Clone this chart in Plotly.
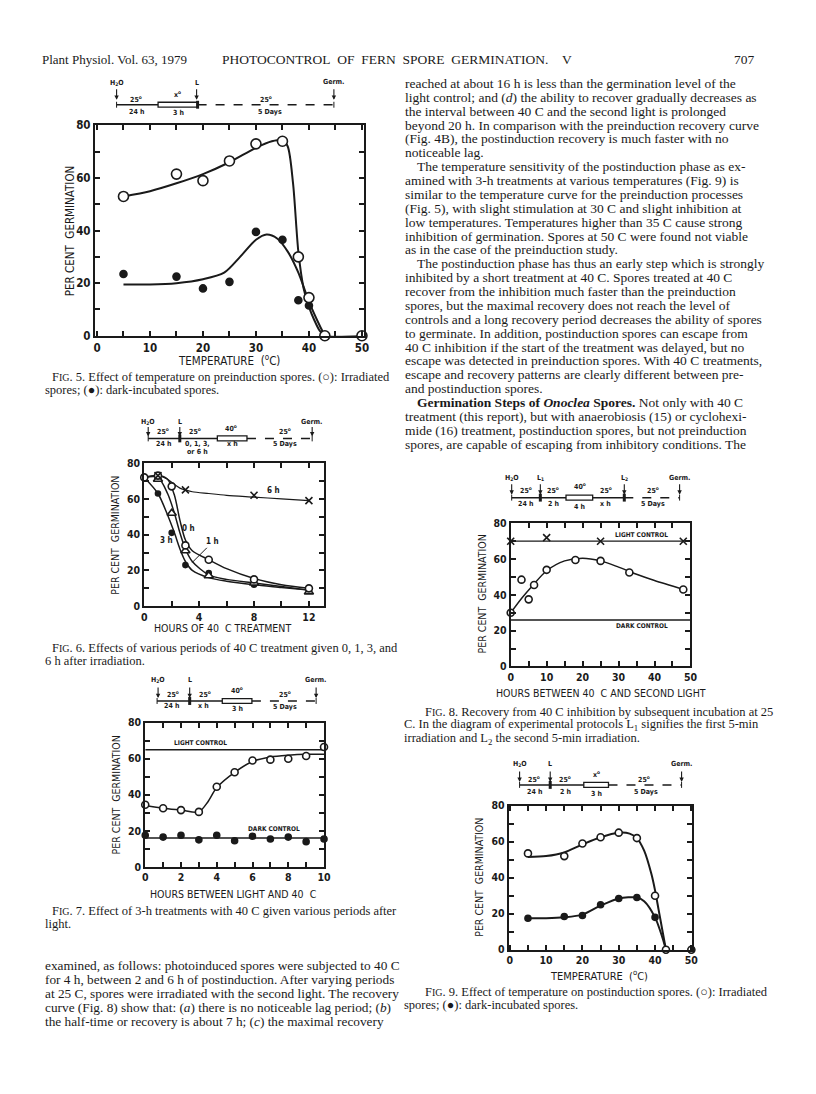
import plotly.graph_objects as go

W, H = 816, 1094

# ---- Fig. 5: preinduction spores, temperature ----
f5_temp = [5, 15, 20, 25, 30, 35, 38, 40, 43, 50]
f5_irradiated = [53, 61.5, 59, 66.5, 73, 74, 30, 14.5, 0, 0]
f5_dark = [23.5, 22.5, 18, 20.5, 39.5, 36.5, 13.5, 11.5, 0, 0]
f5_irr_curve_x = [5, 10, 15, 20, 25, 30, 33, 35, 36, 37, 38, 39, 40, 41, 42, 43, 50]
f5_irr_curve_y = [53, 55, 58, 61.5, 66, 71.5, 74, 74.5, 72, 58, 32, 18, 11, 6, 2, 0, 0]
f5_dark_curve_x = [5, 10, 15, 20, 24, 27, 30, 32, 34, 36, 38, 40, 42, 43]
f5_dark_curve_y = [19.5, 19.5, 20, 21.5, 24, 30, 36.5, 38.5, 37, 32, 24, 13, 4, 0]

# ---- Fig. 6: hours of 40 C given 0, 1, 3, 6 h after light ----
f6_0h_x = [0, 1, 2, 3, 4.7, 8, 12]
f6_0h_y = [72, 73, 67, 34, 26, 15, 10]
f6_1h_x = [1, 2, 3, 4.7, 8, 12]
f6_1h_y = [71, 52, 31, 17, 13, 8]
f6_3h_x = [1, 2, 3, 4.7, 8, 12]
f6_3h_y = [63, 41, 23, 18.5, 12, 9]
f6_6h_x = [1, 3, 8, 12]
f6_6h_y = [73, 65, 62, 59]
f6_curve_x = [0, 1, 1.7, 2.2, 2.6, 3, 3.5, 4.7, 6, 8, 10, 12]
f6_0h_curve = [72, 73, 71, 62, 48, 37, 31, 26, 21, 15.5, 12, 10]
f6_1h_curve = [72, 72, 63, 52, 41, 32, 25, 17.5, 15, 13, 11, 9]
f6_3h_curve = [72, 63, 51, 41, 32, 25, 20, 16, 14, 12, 10.5, 9]
f6_6h_curve = [72, 73, 71, 68, 66, 65, 64, 63, 62, 61, 60, 59]

# ---- Fig. 7: hours between light and 40 C ----
f7_hours = [0, 1, 2, 3, 4, 5, 6, 7, 8, 9, 10]
f7_light = [34.5, 32.5, 31.5, 30.5, 44.5, 52.5, 59, 59.5, 60, 61.5, 66.5]
f7_dark = [17.5, 16.5, 17.5, 15, 17.5, 14.5, 17, 15.5, 16.5, 14, 15.5]
f7_curve_x = [0, 1, 2, 3, 3.5, 4, 5, 6, 7, 8, 9, 10]
f7_curve_y = [34, 32.5, 31.5, 30.5, 36, 44, 52.5, 58.5, 61, 62, 62.5, 62.5]
f7_light_control = 65
f7_dark_control = 16

# ---- Fig. 8: recovery, hours between 40 C and second light ----
f8_hours = [0, 3, 5, 6.5, 10, 18, 25, 33, 48]
f8_germ = [30, 48.5, 37.5, 45.5, 54, 59.5, 59, 52.5, 43]
f8_curve_x = [0, 3, 6, 10, 15, 20, 25, 30, 35, 40, 48]
f8_curve_y = [30, 38, 45, 53.5, 59, 60.5, 59, 55.5, 51.5, 48, 43]
f8_lc_x = [0, 10, 25, 48]
f8_lc_y = [70, 72, 70, 70]
f8_light_control = 70
f8_dark_control = 26

# ---- Fig. 9: postinduction spores, temperature ----
f9_temp = [5, 15, 20, 25, 30, 35, 40, 43, 50]
f9_irradiated = [53.5, 52, 59, 62.5, 65, 62, 30, 0, 0]
f9_dark = [17.5, 18.5, 19, 25, 28.5, 29, 18, 0, 0]
f9_irr_curve_x = [5, 10, 15, 20, 25, 30, 33, 35, 37, 39, 40, 41, 42, 43]
f9_irr_curve_y = [51.5, 52, 54, 58.5, 62.5, 65, 64.5, 62, 55, 42, 33, 22, 11, 0]
f9_dark_curve_x = [5, 10, 15, 20, 25, 30, 35, 37, 40, 42, 43]
f9_dark_curve_y = [17.5, 17.5, 18, 19.5, 24.5, 28.5, 29, 27, 18, 7, 0]

INK = "#1a1a1a"
SANS = "Liberation Sans Narrow, DejaVu Sans Condensed, Arial Narrow, sans-serif"
SERIF = "Liberation Serif, Times New Roman, serif"


def px(x):
    return x / W


def py(y):
    return 1 - y / H


fig = go.Figure()

# axis boxes in page pixels: (left, right, top, bottom, xrange, xdtick, xminor, font)
panels = {
    "5": (93, 365, 120, 333, [-0.4, 50.3], 10, 5, 11.5),
    "6": (143, 325, 462, 607, [0, 13.1], 4, 2, 10.5),
    "7": (144, 325, 725, 871, [0, 10], 2, 1, 10.5),
    "8": (514, 696, 523, 668, [0, 50], 10, 5, 10.5),
    "9": (512, 698, 809, 955, [-0.3, 50.3], 10, 5, 10.5),
}
axis_ids = {}
for i, (name, (l, r, t, b, xr, dt, mn, fs)) in enumerate(panels.items(), start=1):
    sfx = "" if i == 1 else str(i)
    axis_ids[name] = ("x" + sfx, "y" + sfx)
    common = dict(
        showline=True, linewidth=2, linecolor=INK, mirror="ticks",
        ticks="inside", ticklen=5, tickwidth=1.5, tickcolor=INK,
        showgrid=False, zeroline=False,
        tickfont=dict(family=SANS, size=fs, color=INK, weight="bold"),
    )
    fig.layout["xaxis" + sfx] = dict(
        common, domain=[px(l), px(r)], range=xr, dtick=dt, tick0=0,
        anchor="y" + sfx,
        minor=dict(dtick=mn, ticks="inside", ticklen=5, tickwidth=1.5, tickcolor=INK),
    )
    fig.layout["yaxis" + sfx] = dict(
        common, domain=[py(b), py(t)], range=[0, 80], dtick=20, tick0=0,
        anchor="x" + sfx,
        minor=dict(dtick=10, ticks="inside", ticklen=5, tickwidth=1.5, tickcolor=INK),
    )


def line(name, x, y, width=1.6, dash=None, smooth=True):
    xa, ya = axis_ids[name]
    fig.add_trace(go.Scatter(
        x=x, y=y, mode="lines", xaxis=xa, yaxis=ya, hoverinfo="skip",
        line=dict(color=INK, width=width, dash=dash,
                  shape="spline" if smooth else "linear", smoothing=0.8),
    ))


def pts(name, x, y, symbol, size, fill=INK):
    xa, ya = axis_ids[name]
    fig.add_trace(go.Scatter(
        x=x, y=y, mode="markers", xaxis=xa, yaxis=ya, cliponaxis=False,
        marker=dict(symbol=symbol, size=size, color=fill,
                    line=dict(color=INK, width=1.6)),
    ))


# Fig 5
line("5", f5_irr_curve_x, f5_irr_curve_y, 2)
line("5", f5_dark_curve_x, f5_dark_curve_y, 2)
pts("5", f5_temp, f5_dark, "circle", 7)
pts("5", f5_temp, f5_irradiated, "circle", 10, "white")

# Fig 6
line("6", f6_curve_x, f6_6h_curve, 1.2)
line("6", f6_curve_x, f6_0h_curve, 1.5)
line("6", f6_curve_x, f6_1h_curve, 1.5)
line("6", f6_curve_x, f6_3h_curve, 1.5)
pts("6", f6_3h_x, f6_3h_y, "circle", 5)
pts("6", f6_1h_x, f6_1h_y, "triangle-up", 8, "white")
pts("6", f6_0h_x, f6_0h_y, "circle", 7, "white")
pts("6", f6_6h_x, f6_6h_y, "x-thin-open", 7)

# Fig 7
line("7", [0, 10], [f7_light_control] * 2, 1.5, smooth=False)
line("7", [0, 10], [f7_dark_control] * 2, 1.5, smooth=False)
line("7", f7_curve_x, f7_curve_y, 1.5)
pts("7", f7_hours, f7_dark, "circle", 6)
pts("7", f7_hours, f7_light, "circle", 7, "white")

# Fig 8
line("8", [0, 50], [f8_light_control] * 2, 1.3, smooth=False)
line("8", [0, 50], [f8_dark_control] * 2, 1.5, smooth=False)
line("8", f8_curve_x, f8_curve_y, 1.5)
pts("8", f8_lc_x, f8_lc_y, "x-thin-open", 7)
pts("8", f8_hours, f8_germ, "circle", 7, "white")

# Fig 9
line("9", f9_irr_curve_x, f9_irr_curve_y, 2)
line("9", f9_dark_curve_x, f9_dark_curve_y, 2)
pts("9", f9_temp, f9_dark, "circle", 6)
pts("9", f9_temp, f9_irradiated, "circle", 7, "white")

ann = []
shapes = []


def text(x, y, s, size=13.5, family=SERIF, anchor="left", angle=0, color=INK):
    ann.append(dict(x=px(x), y=py(y), xref="paper", yref="paper", text=s,
                    showarrow=False, xanchor=anchor, yanchor="middle", textangle=angle,
                    font=dict(family=family, size=size, color=color)))


def dtext(name, x, y, s, size=8):
    xa, ya = axis_ids[name]
    ann.append(dict(x=x, y=y, xref=xa, yref=ya, text=s, showarrow=False,
                    font=dict(family=SANS, size=size, color=INK, weight="bold")))


# axis titles
SP = "&nbsp;&nbsp;"
ytitle = "PER CENT" + SP + "GERMINATION"
text(68, 227, ytitle, 11.5, SANS, "center", -90)
text(229, 358, "TEMPERATURE" + SP + "(<sup>o</sup>C)", 11.5, SANS, "center")
text(114, 535, ytitle, 10.5, SANS, "center", -90)
text(222, 629, "HOURS OF 40" + SP + "C TREATMENT", 10.5, SANS, "center")
text(114, 798, ytitle, 10.5, SANS, "center", -90)
text(233, 899, "HOURS BETWEEN LIGHT AND 40" + SP + "C", 10.5, SANS, "center")
text(485, 595, ytitle, 10.5, SANS, "center", -90)
text(605, 695, "HOURS BETWEEN 40" + SP + "C AND SECOND LIGHT", 10.5, SANS, "center")
text(482, 882, ytitle, 10.5, SANS, "center", -90)
text(603, 981, "TEMPERATURE" + SP + "(<sup>o</sup>C)", 11, SANS, "center")

# in-plot labels
dtext("6", 9.4, 64.5, "6 h")
dtext("6", 3.2, 43.5, "0 h")
dtext("6", 1.6, 36.5, "3 h")
xa6, ya6 = axis_ids["6"]
ann.append(dict(x=3.5, y=24.5, xref=xa6, yref=ya6, ax=5.0, ay=36, axref=xa6, ayref=ya6,
                text="1 h", showarrow=True, arrowhead=0, arrowwidth=1, arrowcolor=INK,
                font=dict(family=SANS, size=8, color=INK, weight="bold")))
dtext("7", 3.1, 68.5, "LIGHT CONTROL", 6.5)
dtext("7", 7.2, 21, "DARK CONTROL", 6.5)
dtext("8", 36.5, 73.7, "LIGHT CONTROL", 6.5)
dtext("8", 36.5, 22.6, "DARK CONTROL", 6.5)


# protocol diagrams (page pixels)
def seg(x0, x1, y, dash=None, w=1.5):
    shapes.append(dict(type="line", xref="paper", yref="paper", x0=px(x0), x1=px(x1),
                       y0=py(y), y1=py(y), line=dict(color=INK, width=w, dash=dash)))


def vbar(x, y, h=4, w=1.5):
    shapes.append(dict(type="line", xref="paper", yref="paper", x0=px(x), x1=px(x),
                       y0=py(y - h), y1=py(y + h), line=dict(color=INK, width=w)))


def box(x0, x1, y, h=2.5):
    shapes.append(dict(type="rect", xref="paper", yref="paper", x0=px(x0), x1=px(x1),
                       y0=py(y - h), y1=py(y + h), line=dict(color=INK, width=1.3),
                       fillcolor="white"))


def arrow(x, y0, y1, label, ly):
    ann.append(dict(x=px(x), y=py(y1), xref="paper", yref="paper", ax=0, ay=-(y1 - y0),
                    text="", showarrow=True, arrowhead=2,
                    arrowsize=0.8, arrowwidth=1.1, arrowcolor=INK))
    small(x, ly, label)


def small(x, y, s):
    ann.append(dict(x=px(x), y=py(y), xref="paper", yref="paper", text=s,
                    showarrow=False, xanchor="center", yanchor="middle",
                    font=dict(family=SANS, size=7, color=INK, weight="bold")))


# Fig 5 protocol
yl = 99
seg(115, 157, yl); box(157, 197, yl); vbar(197, yl, 4, 3)
seg(197, 335, yl, "dash"); vbar(115, yl, 3, 1); vbar(335, yl, 3, 1)
arrow(115, 82, 94, "H<sub>2</sub>O", 77); arrow(196, 82, 94, "L", 77); arrow(335, 82, 94, "Germ.", 76)
small(135, 93, "25<sup>o</sup>"); small(177, 88, "x<sup>o</sup>"); small(266, 93, "25<sup>o</sup>")
small(135, 106, "24 h"); small(178, 107, "3 h"); small(270, 106, "5 Days")

# Fig 6 protocol
yl = 437
seg(147, 217, yl); vbar(179, yl, 4, 3); box(217, 247, yl)
seg(247, 313, yl, "dash"); vbar(147, yl, 3, 1); vbar(313, yl, 3, 1)
arrow(147, 424, 435, "H<sub>2</sub>O", 420); arrow(179, 424, 435, "L", 420); arrow(313, 424, 435, "Germ.", 420)
small(162, 430, "25<sup>o</sup>"); small(194, 430, "25<sup>o</sup>"); small(231, 426, "40<sup>o</sup>")
small(286, 430, "25<sup>o</sup>")
small(162, 443, "24 h"); small(197, 443, "0, 1, 3,"); small(197, 451, "or 6 h")
small(232, 443, "x h"); small(286, 443, "5 Days")

# Fig 7 protocol
yl = 703
seg(156, 222, yl); vbar(189, yl, 4, 3); box(222, 252, yl)
seg(252, 317, yl, "dash"); vbar(156, yl, 3, 1); vbar(317, yl, 3, 1)
arrow(157, 688, 700, "H<sub>2</sub>O", 682); arrow(189, 688, 700, "L", 682); arrow(317, 688, 700, "Germ.", 682)
small(172, 696, "25<sup>o</sup>"); small(204, 696, "25<sup>o</sup>"); small(237, 692, "40<sup>o</sup>")
small(285, 696, "25<sup>o</sup>")
small(171, 708, "24 h"); small(203, 708, "x h"); small(237, 711, "3 h"); small(285, 709, "5 Days")

# Fig 8 protocol
yl = 497
seg(515, 570, yl); vbar(544, yl, 4, 3); box(570, 597, yl); seg(597, 629, yl)
vbar(629, yl, 4, 3); seg(629, 685, yl, "dash"); vbar(515, yl, 3, 1); vbar(685, yl, 3, 1)
arrow(515, 482, 494, "H<sub>2</sub>O", 477); arrow(544, 482, 494, "L<sub>1</sub>", 477)
arrow(629, 482, 494, "L<sub>2</sub>", 477); arrow(685, 482, 494, "Germ.", 477)
small(529, 489, "25<sup>o</sup>"); small(557, 489, "25<sup>o</sup>"); small(584, 485, "40<sup>o</sup>")
small(610, 489, "25<sup>o</sup>"); small(658, 489, "25<sup>o</sup>")
small(529, 503, "24 h"); small(557, 503, "2 h"); small(584, 506, "4 h"); small(610, 503, "x h")
small(658, 503, "5 Days")

# Fig 9 protocol
yl = 788
seg(523, 588, yl); vbar(554, yl, 4, 3); box(588, 613, yl)
seg(613, 687, yl, "dash"); vbar(523, yl, 3, 1); vbar(687, yl, 3, 1)
arrow(523, 773, 785, "H<sub>2</sub>O", 767); arrow(554, 773, 785, "L", 767); arrow(687, 773, 785, "Germ.", 767)
small(538, 782, "25<sup>o</sup>"); small(569, 782, "25<sup>o</sup>"); small(601, 777, "x<sup>o</sup>")
small(649, 782, "25<sup>o</sup>")
small(538, 795, "24 h"); small(569, 795, "2 h"); small(601, 797, "3 h"); small(651, 795, "5 Days")

# page header
NB = "&nbsp;&nbsp;"
text(37, 53, "Plant Physiol. Vol. 63, 1979", 13)
text(220, 53, NB.join(["PHOTOCONTROL", "OF", "FERN", "SPORE", "GERMINATION."]) + NB + NB + "V", 13.5)
text(763, 53, "707", 13.5, anchor="right")

# right column body text
right_lines = [
    "reached at about 16 h is less than the germination level of the",
    "light control; and (<i>d</i>) the ability to recover gradually decreases as",
    "the interval between 40 C and the second light is prolonged",
    "beyond 20 h. In comparison with the preinduction recovery curve",
    "(Fig. 4B), the postinduction recovery is much faster with no",
    "noticeable lag.",
    "\tThe temperature sensitivity of the postinduction phase as ex-",
    "amined with 3-h treatments at various temperatures (Fig. 9) is",
    "similar to the temperature curve for the preinduction processes",
    "(Fig. 5), with slight stimulation at 30 C and slight inhibition at",
    "low temperatures. Temperatures higher than 35 C cause strong",
    "inhibition of germination. Spores at 50 C were found not viable",
    "as in the case of the preinduction study.",
    "\tThe postinduction phase has thus an early step which is strongly",
    "inhibited by a short treatment at 40 C. Spores treated at 40 C",
    "recover from the inhibition much faster than the preinduction",
    "spores, but the maximal recovery does not reach the level of",
    "controls and a long recovery period decreases the ability of spores",
    "to germinate. In addition, postinduction spores can escape from",
    "40 C inhibition if the start of the treatment was delayed, but no",
    "escape was detected in preinduction spores. With 40 C treatments,",
    "escape and recovery patterns are clearly different between pre-",
    "and postinduction spores.",
    "\t<b>Germination Steps of <i>Onoclea</i> Spores.</b> Not only with 40 C",
    "treatment (this report), but with anaerobiosis (15) or cyclohexi-",
    "mide (16) treatment, postinduction spores, but not preinduction",
    "spores, are capable of escaping from inhibitory conditions. The",
]
for i, s in enumerate(right_lines):
    indent = s.startswith("\t")
    text(417 if indent else 405, 77.5 + i * 14.05, s.lstrip("\t"))

left_lines = [
    "examined, as follows: photoinduced spores were subjected to 40 C",
    "for 4 h, between 2 and 6 h of postinduction. After varying periods",
    "at 25 C, spores were irradiated with the second light. The recovery",
    "curve (Fig. 8) show that: (<i>a</i>) there is no noticeable lag period; (<i>b</i>)",
    "the half-time or recovery is about 7 h; (<i>c</i>) the maximal recovery",
]
for i, s in enumerate(left_lines):
    text(40, 971 + i * 14.05, s, 13.3)

# captions
SC = "<span style='font-size:10px'>IG</span>"
CAP = 12.5
text(48, 375, "F" + SC + ". 5. Effect of temperature on preinduction spores. (○): Irradiated", CAP)
text(40, 388, "spores; (●): dark-incubated spores.", CAP)
text(48, 649, "F" + SC + ". 6. Effects of various periods of 40 C treatment given 0, 1, 3, and", CAP)
text(40, 662, "6 h after irradiation.", CAP)
text(48, 916, "F" + SC + ". 7. Effect of 3-h treatments with 40 C given various periods after", CAP)
text(40, 929, "light.", CAP)
text(425, 714, "F" + SC + ". 8. Recovery from 40 C inhibition by subsequent incubation at 25", CAP)
text(404, 727.5, "C. In the diagram of experimental protocols L<sub>1</sub> signifies the first 5-min", CAP)
text(404, 741, "irradiation and L<sub>2</sub> the second 5-min irradiation.", CAP)
text(425, 998, "F" + SC + ". 9. Effect of temperature on postinduction spores. (○): Irradiated", CAP)
text(404, 1011, "spores; (●): dark-incubated spores.", CAP)

fig.update_layout(
    width=W, height=H, margin=dict(l=0, r=0, t=0, b=0),
    paper_bgcolor="white", plot_bgcolor="white",
    showlegend=False, annotations=ann, shapes=shapes,
)

fig.write_html(
    "out.html",
    config={"displayModeBar": False},
    post_script="document.body.style.margin='0';document.body.style.overflow='hidden';",
)
